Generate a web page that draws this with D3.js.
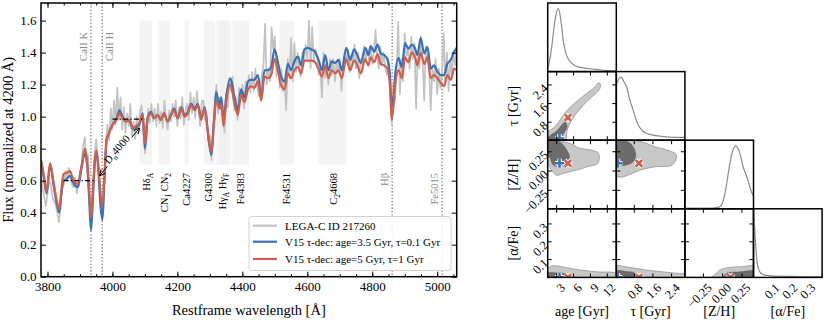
<!DOCTYPE html>
<html><head><meta charset="utf-8">
<script src="https://cdn.jsdelivr.net/npm/d3@7"></script>
<style>
body{margin:0;background:#fff;}
svg{font-family:"Liberation Serif","DejaVu Serif",serif;}
</style></head><body>
<svg id="fig" width="830" height="332"></svg>
<script>
// ----------------------------------------------
// Spectrum data
// ----------------------------------------------
// observed spectrum, 5 A steps from 3780 A
var dataStart = 3780, dataStep = 5;
var dataFlux = [
  0.62,0.55,0.50,0.44,0.52,0.60,0.58,0.50,0.47,0.45,
  0.40,0.34,0.42,0.55,0.58,0.66,0.60,0.68,0.62,0.58,
  0.56,0.62,0.52,0.60,0.66,0.70,0.82,0.87,0.72,0.76,
  0.45,0.33,0.48,0.78,0.86,0.70,0.62,0.47,0.38,0.64,
  0.86,0.95,0.85,1.05,0.92,1.10,0.95,1.18,0.98,1.12,
  0.92,1.06,0.90,1.02,0.94,1.08,0.88,0.97,0.86,1.00,
  0.90,1.04,1.07,0.92,0.77,0.86,1.05,0.96,1.08,0.97,
  1.05,0.94,1.08,0.96,1.03,0.93,1.10,0.98,0.92,1.04,
  0.97,1.08,1.00,1.10,0.94,1.06,0.99,1.12,0.95,1.04,
  1.08,0.98,1.15,1.02,1.12,0.99,1.16,1.05,0.94,1.10,
  1.10,0.98,1.02,0.84,0.88,0.73,0.95,0.96,1.20,1.02,
  1.12,1.04,1.07,0.90,1.14,1.06,1.24,1.16,1.25,1.04,
  1.12,0.98,1.18,1.10,1.20,1.05,1.22,1.14,1.26,1.15,
  1.28,1.16,1.30,1.20,1.13,1.18,1.26,1.32,1.58,1.20,
  1.30,1.22,1.56,1.42,1.50,1.25,1.34,1.18,1.30,1.16,
  1.22,1.04,1.36,1.24,1.49,1.22,1.46,1.28,1.40,1.30,
  1.25,1.40,1.34,1.45,1.36,1.60,1.30,1.56,1.34,1.42,
  1.38,1.26,1.32,1.12,1.40,1.24,1.30,1.20,1.36,1.26,
  1.36,1.22,1.34,1.28,1.36,1.16,1.30,1.38,1.34,1.42,
  1.28,1.38,1.34,1.45,1.30,1.40,1.24,1.36,1.32,1.44,
  1.34,1.42,1.36,1.44,1.33,1.40,1.54,1.38,1.30,1.44,
  1.32,1.40,1.30,1.26,1.36,1.18,0.95,1.20,1.10,1.30,
  1.59,1.14,1.36,1.22,1.52,1.38,1.42,1.30,1.50,1.36,
  1.46,1.05,1.40,1.30,1.50,1.35,1.10,1.44,1.36,1.30,
  1.04,1.30,1.22,1.36,1.14,1.30,1.18,1.28,1.52,1.20,
  1.40,1.16,1.36,1.26,1.40,1.32,1.44
];

// model spectra: [wavelength, age=3.5/tau=0.1 (blue), age=5/tau=1 (red)]
var modelRows = [
  [3780,.72,.73],[3790,.60,.62],[3797,.52,.53],[3808,.70,.71],[3818,.58,.60],[3828,.46,.48],
  [3836,.40,.42],[3843,.52,.55],[3849,.60,.64],[3859,.61,.65],[3869,.63,.66],[3877,.60,.62],
  [3884,.57,.59],[3894,.56,.58],[3905,.68,.69],[3915,.77,.80],[3922,.70,.72],[3928,.50,.55],
  [3934,.29,.37],[3940,.50,.55],[3946,.72,.74],[3951,.78,.79],[3957,.65,.68],[3963,.45,.52],
  [3969,.355,.44],[3975,.58,.62],[3982,.85,.855],[3990,.90,.90],[3998,.94,.94],[4005,.965,.96],
  [4013,.99,.98],[4021,1.04,1.02],[4031,1.00,.99],[4041,.97,.97],[4052,.975,.98],[4062,.925,.93],
  [4072,.93,.94],[4083,.95,.96],[4093,1.02,1.01],[4100,.80,.83],[4108,.99,.99],[4118,1.03,1.02],
  [4129,.99,.99],[4139,1.01,1.01],[4149,.98,.98],[4159,1.02,1.02],[4170,.97,.97],[4180,1.01,1.01],
  [4190,1.05,1.04],[4201,.99,.99],[4212,1.06,1.05],[4222,1.01,1.00],[4232,1.03,1.02],[4242,1.08,1.07],
  [4253,1.05,1.04],[4263,1.08,1.07],[4273,.99,.98],[4284,1.06,1.05],[4294,.90,.90],[4304,.76,.78],
  [4314,1.02,1.00],[4319,1.155,1.10],[4330,1.07,1.05],[4335,1.12,1.08],[4342,.97,.94],[4350,1.12,1.09],
  [4363,1.24,1.20],[4376,1.12,1.08],[4386,1.04,1.01],[4396,1.17,1.14],[4407,1.12,1.09],[4417,1.22,1.17],
  [4427,1.23,1.19],[4437,1.23,1.18],[4448,1.26,1.22],[4458,1.12,1.10],[4468,1.29,1.25],[4478,1.29,1.24],
  [4489,1.31,1.26],[4499,1.42,1.36],[4509,1.345,1.29],[4519,1.25,1.20],[4530,1.22,1.17],[4540,1.33,1.27],
  [4550,1.29,1.24],[4560,1.345,1.29],[4571,1.375,1.31],[4581,1.32,1.27],[4591,1.42,1.35],[4601,1.43,1.35],
  [4612,1.42,1.35],[4622,1.41,1.345],[4636,1.345,1.29],[4645,1.29,1.25],[4655,1.385,1.32],[4665,1.29,1.24],
  [4675,1.345,1.29],[4686,1.335,1.27],[4696,1.355,1.29],[4706,1.29,1.24],[4720,1.43,1.36],[4732,1.355,1.29],
  [4744,1.42,1.35],[4754,1.385,1.32],[4765,1.335,1.27],[4778,1.43,1.36],[4788,1.385,1.32],[4795,1.44,1.37],
  [4806,1.405,1.34],[4816,1.45,1.39],[4826,1.395,1.33],[4837,1.385,1.32],[4847,1.355,1.30],[4854,1.27,1.20],
  [4860,1.06,.98],[4866,1.14,1.08],[4870,1.25,1.19],[4881,1.365,1.29],[4891,1.31,1.24],[4901,1.46,1.37],
  [4911,1.425,1.34],[4922,1.45,1.40],[4932,1.425,1.37],[4939,1.385,1.32],[4949,1.49,1.40],[4960,1.395,1.33],
  [4970,1.435,1.37],[4980,1.30,1.24],[4990,1.32,1.26],[5001,1.28,1.24],[5011,1.26,1.21],[5021,1.26,1.19],
  [5031,1.33,1.26],[5042,1.355,1.23],[5052,1.405,1.30],[5060,1.43,1.29]
];

var legendNames = ["LEGA-C ID 217260", "V15 τ-dec: age=3.5 Gyr, τ=0.1 Gyr", "V15 τ-dec: age=5 Gyr, τ=1 Gyr"];
var seriesColors = ["#c2c2c2", "#3b70b4", "#cc6150"];

// Lick index passbands and labels ("_x" = subscript)
var lickBands = [[4083.5,4122.25],[4142.1,4177.1],[4222.25,4234.75],[4281.4,4316.4],[4319.75,4363.5],
                 [4331.25,4352.25],[4369.1,4420.4],[4514.25,4559.25],[4634.0,4720.25]];
var lickNames = ["Hδ_A", "CN_1 CN_2", "Ca4227", "G4300", "Hγ_A Hγ_F", "Fe4383", "Fe4531", "C_24668"];
var lickCenters = [4106, 4160, 4229, 4297, 4338, 4394, 4537, 4681];

// emission / absorption line markers
var lineNames = ["CaII K", "CaII H", "Hβ", "Fe5015"];
var lineWaves = [3933.7, 3968.5, 4861.3, 5015.0];

// Dn4000 windows
var dnBlue = [3850, 3950], dnBlueLevel = 0.60;
var dnRed = [4000, 4100], dnRedLevel = 0.985;

// ----------------------------------------------
// Corner plot data
// ----------------------------------------------
var dimNames = ["age [Gyr]", "τ [Gyr]", "[Z/H]", "[α/Fe]"];
var dimDomains = [[1.4, 13.6], [0.03, 2.97], [-0.49, 0.40], [0, 0.385]];
var dimTicks = [[3, 6, 9, 12], [0.8, 1.6, 2.4], [-0.25, 0, 0.25], [0.1, 0.2, 0.3]];
var dimTickText = [["3","6","9","12"], ["0.8","1.6","2.4"], ["−0.25","0.00","0.25"], ["0.1","0.2","0.3"]];

// 1D marginals (relative density)
var ageGrid = [1.4,1.8,2.2,2.6,3.0,3.3,3.6,3.9,4.2,4.6,5.0,5.5,6.0,7,8,9,10,11,12,13.6];
var ageDens = [0.05,0.2,0.45,0.75,0.95,1.0,0.9,0.7,0.47,0.3,0.21,0.15,0.11,0.07,0.055,0.045,0.035,0.025,0.015,0.01];
var tauGrid = [0.06,0.15,0.25,0.35,0.47,0.6,0.75,0.9,1.0,1.15,1.32,1.6,1.9,2.3,2.97];
var tauDens = [0.9,0.98,1.0,0.93,0.85,0.65,0.48,0.3,0.22,0.15,0.11,0.08,0.065,0.05,0.045];
var zhGrid = [-0.49,-0.2,-0.1,-0.04,0.0,0.044,0.08,0.11,0.14,0.17,0.19,0.216,0.24,0.26,0.29,0.32,0.35,0.367,0.40];
var zhDens = [0.01,0.01,0.015,0.03,0.1,0.34,0.62,0.82,0.95,1.0,0.97,0.91,0.8,0.69,0.58,0.48,0.36,0.29,0.2];
var afeGrid = [0,0.005,0.01,0.015,0.02,0.03,0.04,0.06,0.1,0.2,0.385];
var afeDens = [1.0,0.85,0.62,0.4,0.25,0.12,0.07,0.04,0.025,0.015,0.01];

// 2D credible regions, outer (light) and inner (dark), [x, y] in data units
var tauAgeOuter = [[1.2,-0.1],[1.2,0.40],[1.58,0.42],[2.4,0.56],[3.3,0.78],[4.18,1.11],[5.38,1.44],[6.86,1.75],
                   [8.36,2.04],[9.85,2.32],[10.44,2.49],[10.8,2.42],[10.6,2.21],[9.26,1.89],[7.76,1.54],
                   [6.28,1.11],[5.38,0.76],[4.8,0.40],[4.5,-0.1]];
var tauAgeInner = [[1.2,-0.1],[1.5,0.15],[2.11,0.28],[3.0,0.42],[3.9,0.68],[4.49,0.80],[4.85,0.62],[4.3,0.35],[3.9,0.15],[3.6,-0.1]];
var zhAgeOuter = [[1.2,0.385],[3.6,0.385],[5.38,0.36],[6.86,0.30],[9.26,0.27],[10.44,0.23],[10.3,0.10],[8.36,0.055],
                  [7.17,0.025],[4.19,-0.03],[3.0,-0.055],[2.11,0.01],[1.58,0.077],[1.2,0.1]];
var zhAgeInner = [[1.2,0.39],[3.6,0.375],[4.8,0.27],[5.26,0.185],[4.8,0.10],[3.6,0.055],[2.4,0.077],[1.69,0.185],[1.2,0.2]];
var zhTauOuter = [[-0.1,0.385],[1.03,0.385],[1.67,0.316],[2.23,0.27],[2.6,0.21],[2.44,0.08],[1.67,0.055],[1.03,0.01],
                  [0.52,-0.055],[0.18,-0.08],[-0.1,-0.03]];
var zhTauInner = [[-0.1,0.39],[0.52,0.38],[0.78,0.30],[0.86,0.195],[0.73,0.115],[0.43,0.077],[0.09,0.065],[-0.1,0.07]];
var afeAgeOuter = [[1.2,-0.02],[1.2,0.04],[1.9,0.062],[3.0,0.065],[4.5,0.056],[7.2,0.041],[10.4,0.031],[13.8,0.02],[13.8,-0.02]];
var afeAgeInner = [[1.2,-0.02],[1.2,0.022],[3.0,0.025],[4.5,0.02],[5.4,0.01],[5.6,-0.02]];
var afeTauOuter = [[-0.1,-0.02],[-0.1,0.062],[0.6,0.056],[1.32,0.041],[2.03,0.031],[2.74,0.022],[3.1,0.02],[3.1,-0.02]];
var afeTauInner = [[-0.1,-0.02],[-0.1,0.035],[0.5,0.032],[0.8,0.025],[0.9,-0.02]];
var afeZhOuter = [[-0.17,-0.02],[-0.08,0.025],[-0.02,0.045],[0.1,0.056],[0.25,0.06],[0.45,0.062],[0.45,-0.02]];
var afeZhInner = [[0.0,-0.02],[0.05,0.022],[0.2,0.03],[0.45,0.032],[0.45,-0.02]];

// model parameters [age, tau, Z/H, alpha/Fe]
var blueModel = [3.5, 0.1, 0.10, 0.0];
var redModel = [5.0, 1.0, 0.10, 0.0];

// ----------------------------------------------
// Basic setup
// ----------------------------------------------
var svg = d3.select("#fig");
var defs = svg.append("defs");

var spec = {left: 41, right: 456.7, top: 3, bottom: 276.7};
var x = d3.scaleLinear().domain([3780, 5060]).range([spec.left, spec.right]);
var y = d3.scaleLinear().domain([0, 1.71]).range([spec.bottom, spec.top]);

defs.append("clipPath").attr("id", "specClip")
    .append("rect")
    .attr("x", spec.left).attr("y", spec.top)
    .attr("width", spec.right - spec.left).attr("height", spec.bottom - spec.top);

defs.append("marker").attr("id", "arrowHead")
    .attr("viewBox", "0 0 10 10").attr("refX", 9).attr("refY", 5)
    .attr("markerWidth", 7).attr("markerHeight", 7).attr("markerUnits", "userSpaceOnUse")
    .attr("orient", "auto")
    .append("path").attr("d", "M1,1L9,5L1,9").attr("fill", "none").attr("stroke", "#000").attr("stroke-width", 1.3);

// helper for labels with subscripts
function richText(sel, str, fs) {
    var parts = str.split(/(_.)/);
    var down = false;
    parts.forEach(function(p) {
        if (!p) return;
        if (p[0] === "_") {
            sel.append("tspan").attr("font-size", fs * 0.7).attr("dy", fs * 0.28).text(p.slice(1));
            down = true;
        } else {
            sel.append("tspan").attr("dy", down ? -fs * 0.28 : 0).text(p);
            down = false;
        }
    });
}

var specG = svg.append("g");
var plotG = specG.append("g").attr("clip-path", "url(#specClip)");

// index bands
plotG.selectAll(".band")
    .data(lickBands)
    .enter()
    .append("rect")
    .attr("x", d => x(d[0]))
    .attr("width", d => x(d[1]) - x(d[0]))
    .attr("y", y(1.6))
    .attr("height", y(0.7) - y(1.6))
    .attr("fill", "#ececec")
    .attr("fill-opacity", 0.6);

// line markers
plotG.selectAll(".lineMark")
    .data(lineWaves)
    .enter()
    .append("line")
    .attr("x1", d => x(d)).attr("x2", d => x(d))
    .attr("y1", spec.top).attr("y2", spec.bottom)
    .attr("stroke", "#8a8a8a")
    .attr("stroke-width", 1.4)
    .attr("stroke-dasharray", "1.4,1.9");

// spectra
var dataLine = d3.line()
    .x((d, i) => x(dataStart + i * dataStep))
    .y(d => y(d));
plotG.append("path")
    .attr("d", dataLine(dataFlux))
    .attr("fill", "none")
    .attr("stroke", seriesColors[0])
    .attr("stroke-width", 1.7)
    .attr("stroke-linejoin", "round");

[1, 2].forEach(function(k) {
    plotG.append("path")
        .attr("d", d3.line().x(d => x(d[0])).y(d => y(d[k])).curve(d3.curveMonotoneX)(modelRows))
        .attr("fill", "none")
        .attr("stroke", seriesColors[k])
        .attr("stroke-width", 2.2)
        .attr("stroke-linejoin", "round");
});

// Dn4000 windows
[[dnBlue, dnBlueLevel], [dnRed, dnRedLevel]].forEach(function(w) {
    plotG.append("line")
        .attr("x1", x(w[0][0])).attr("x2", x(w[0][1]))
        .attr("y1", y(w[1])).attr("y2", y(w[1]))
        .attr("stroke", "#000")
        .attr("stroke-width", 1.3)
        .attr("stroke-dasharray", "5,2.2,1.3,2.2");
});

// Dn4000 annotation: rotated text with an arrow at each end
var dnCx = x(4022), dnCy = y(0.78), dnAng = -50;
var ux = Math.cos(dnAng * Math.PI / 180), uy = Math.sin(dnAng * Math.PI / 180);
var dnText = specG.append("text")
    .attr("transform", "translate(" + dnCx + "," + dnCy + ")rotate(" + dnAng + ")")
    .attr("text-anchor", "middle")
    .attr("dy", "0.35em")
    .attr("font-size", 11)
    .style("white-space", "pre");
richText(dnText, "D_n4000", 11);
[-1, 1].forEach(function(s) {
    specG.append("line")
        .attr("x1", dnCx + s * ux * 19).attr("y1", dnCy + s * uy * 19)
        .attr("x2", dnCx + s * ux * 31).attr("y2", dnCy + s * uy * 31)
        .attr("stroke", "#000").attr("stroke-width", 1)
        .attr("marker-end", "url(#arrowHead)");
});

// vertical feature labels
specG.selectAll(".lick")
    .data(lickNames)
    .enter()
    .append("text")
    .attr("transform", (d, i) => "translate(" + (x(lickCenters[i]) + 3.5) + ",173)rotate(-90)")
    .attr("text-anchor", "end")
    .attr("font-size", 10.5)
    .style("white-space", "pre")
    .each(function(d) { richText(d3.select(this), d, 10.5); });

var lineLabelOff = [-4, 10.5, -4, -4];
var lineLabelTop = [32, 32, 173, 173];
specG.selectAll(".lineLab")
    .data(lineNames)
    .enter()
    .append("text")
    .attr("transform", (d, i) => "translate(" + (x(lineWaves[i]) + lineLabelOff[i]) + "," + lineLabelTop[i] + ")rotate(-90)")
    .attr("text-anchor", "end")
    .attr("font-size", 10.5)
    .attr("fill", "#8a8a8a")
    .text(d => d);

// axes: ticks pointing inward on all four sides
var xMajor = d3.range(3800, 5001, 200), xMinor = d3.range(3800, 5060, 50);
var yMajor = d3.range(0, 1.61, 0.2);
function styleAxis(g) {
    g.select(".domain").remove();
    g.selectAll("line").attr("stroke", "#000").attr("stroke-width", 1);
    g.selectAll("text").attr("font-family", "Liberation Serif, serif").attr("font-size", 13).attr("fill", "#000");
}
specG.append("g").attr("transform", "translate(0," + spec.bottom + ")")
    .call(d3.axisBottom(x).tickValues(xMinor).tickSize(-2.5).tickFormat("")).call(styleAxis);
specG.append("g").attr("transform", "translate(0," + spec.bottom + ")")
    .call(d3.axisBottom(x).tickValues(xMajor).tickSize(-5).tickPadding(5).tickFormat(d3.format("d"))).call(styleAxis);
specG.append("g").attr("transform", "translate(0," + spec.top + ")")
    .call(d3.axisTop(x).tickValues(xMinor).tickSize(-2.5).tickFormat("")).call(styleAxis);
specG.append("g").attr("transform", "translate(0," + spec.top + ")")
    .call(d3.axisTop(x).tickValues(xMajor).tickSize(-5).tickFormat("")).call(styleAxis);
specG.append("g").attr("transform", "translate(" + spec.left + ",0)")
    .call(d3.axisLeft(y).tickValues(yMajor).tickSize(-5).tickPadding(4.5).tickFormat(d3.format(".1f"))).call(styleAxis);
specG.append("g").attr("transform", "translate(" + spec.right + ",0)")
    .call(d3.axisRight(y).tickValues(yMajor).tickSize(-5).tickFormat("")).call(styleAxis);

specG.append("rect")
    .attr("x", spec.left).attr("y", spec.top)
    .attr("width", spec.right - spec.left).attr("height", spec.bottom - spec.top)
    .attr("fill", "none").attr("stroke", "#000").attr("stroke-width", 1.5);

specG.append("text")
    .attr("x", (spec.left + spec.right) / 2).attr("y", 315)
    .attr("text-anchor", "middle").attr("font-size", 14.5)
    .text("Restframe wavelength [Å]");
specG.append("text")
    .attr("transform", "translate(12.5," + ((spec.top + spec.bottom) / 2) + ")rotate(-90)")
    .attr("text-anchor", "middle").attr("font-size", 14.5)
    .text("Flux (normalized at 4200 Å)");

// legend
var leg = specG.append("g");
leg.append("rect")
    .attr("x", 249).attr("y", 216.5).attr("width", 202).attr("height", 54).attr("rx", 3)
    .attr("fill", "#fff").attr("fill-opacity", 0.85)
    .attr("stroke", "#d2d2d2").attr("stroke-width", 1);
var legY = [225.7, 241.7, 259];
legendNames.forEach(function(name, i) {
    leg.append("line")
        .attr("x1", 253).attr("x2", 277).attr("y1", legY[i]).attr("y2", legY[i])
        .attr("stroke", seriesColors[i]).attr("stroke-width", 2.2);
    leg.append("text")
        .attr("x", 285).attr("y", legY[i] + 3.8)
        .attr("font-size", 11)
        .text(name);
});

// ----------------------------------------------
// Corner plot
// ----------------------------------------------
var cL = 547.7, cT = 3, cS = 68.6;
var colX = dimDomains.map((dom, c) => d3.scaleLinear().domain(dom).range([cL + c * cS, cL + (c + 1) * cS]));
var rowY = dimDomains.map((dom, r) => d3.scaleLinear().domain(dom).range([cT + (r + 1) * cS, cT + r * cS]));
var marginals = [[ageGrid, ageDens], [tauGrid, tauDens], [zhGrid, zhDens], [afeGrid, afeDens]];
var regions = {
    "10": [tauAgeOuter, tauAgeInner],
    "20": [zhAgeOuter, zhAgeInner],
    "21": [zhTauOuter, zhTauInner],
    "30": [afeAgeOuter, afeAgeInner],
    "31": [afeTauOuter, afeTauInner],
    "32": [afeZhOuter, afeZhInner]
};
var cornerG = svg.append("g");

for (var r = 0; r < 4; r++) {
    for (var c = 0; c <= r; c++) {
        var px0 = cL + c * cS, py0 = cT + r * cS;
        var clipId = "clip" + r + c;
        defs.append("clipPath").attr("id", clipId)
            .append("rect").attr("x", px0).attr("y", py0).attr("width", cS).attr("height", cS);
        var pg = cornerG.append("g");
        var inner = pg.append("g").attr("clip-path", "url(#" + clipId + ")");
        var xs = colX[c];

        if (r === c) {
            var ds = d3.scaleLinear().domain([0, 1 / 0.92]).range([py0 + cS, py0]);
            var m = marginals[c];
            inner.append("path")
                .attr("d", d3.line().x(d => xs(d[0])).y(d => ds(d[1])).curve(d3.curveMonotoneX)(d3.zip(m[0], m[1])))
                .attr("fill", "none").attr("stroke", "#8c8c8c").attr("stroke-width", 1.2);
        } else {
            var ys = rowY[r];
            var reg = regions["" + r + c];
            var area = d3.line().x(d => xs(d[0])).y(d => ys(d[1])).curve(d3.curveCatmullRomClosed.alpha(0.5));
            inner.append("path").attr("d", area(reg[0]))
                .attr("fill", "#c8c8c8").attr("stroke", "#9c9c9c").attr("stroke-width", 0.9);
            inner.append("path").attr("d", area(reg[1]))
                .attr("fill", "#6c6c6c").attr("stroke", "#5c5c5c").attr("stroke-width", 0.6);

            // model markers
            [[blueModel, seriesColors[1], 0], [redModel, seriesColors[2], 45]].forEach(function(mk) {
                var g = inner.append("g")
                    .attr("transform", "translate(" + xs(mk[0][c]) + "," + ys(mk[0][r]) + ")rotate(" + mk[2] + ")");
                g.append("path").attr("d", "M-4.5,0H4.5M0,-4.5V4.5")
                    .attr("stroke", "#fff").attr("stroke-width", 4.6);
                g.append("path").attr("d", "M-4.5,0H4.5M0,-4.5V4.5")
                    .attr("stroke", mk[1]).attr("stroke-width", 2.6);
            });

            // inward ticks on all sides
            dimTicks[c].forEach(function(t) {
                pg.append("line").attr("x1", xs(t)).attr("x2", xs(t)).attr("y1", py0 + cS).attr("y2", py0 + cS - 4)
                    .attr("stroke", "#000").attr("stroke-width", 1);
                pg.append("line").attr("x1", xs(t)).attr("x2", xs(t)).attr("y1", py0).attr("y2", py0 + 4)
                    .attr("stroke", "#000").attr("stroke-width", 1);
            });
            dimTicks[r].forEach(function(t) {
                pg.append("line").attr("x1", px0).attr("x2", px0 + 4).attr("y1", ys(t)).attr("y2", ys(t))
                    .attr("stroke", "#000").attr("stroke-width", 1);
                pg.append("line").attr("x1", px0 + cS).attr("x2", px0 + cS - 4).attr("y1", ys(t)).attr("y2", ys(t))
                    .attr("stroke", "#000").attr("stroke-width", 1);
            });
        }

        pg.append("rect").attr("x", px0).attr("y", py0).attr("width", cS).attr("height", cS)
            .attr("fill", "none").attr("stroke", "#000").attr("stroke-width", 1.5);

        // tick labels on the outer edges
        if (r === 3) {
            dimTicks[c].forEach(function(t, i) {
                pg.append("text")
                    .attr("transform", "translate(" + (xs(t) + 3) + "," + (py0 + cS + 5) + ")rotate(-45)")
                    .attr("text-anchor", "end").attr("dy", "0.7em")
                    .attr("font-size", 12.5)
                    .text(dimTickText[c][i]);
            });
        }
        if (c === 0 && r > 0) {
            dimTicks[r].forEach(function(t, i) {
                pg.append("text")
                    .attr("transform", "translate(" + (px0 - 5) + "," + (rowY[r](t) - 2) + ")rotate(-45)")
                    .attr("text-anchor", "end").attr("dy", "0.7em")
                    .attr("font-size", 12.5)
                    .text(dimTickText[r][i]);
            });
        }
    }
}

// corner axis labels
dimNames.forEach(function(name, i) {
    cornerG.append("text")
        .attr("x", cL + (i + 0.5) * cS).attr("y", 316)
        .attr("text-anchor", "middle").attr("font-size", 14)
        .text(name);
    if (i > 0) {
        cornerG.append("text")
            .attr("transform", "translate(518," + (cT + (i + 0.5) * cS) + ")rotate(-90)")
            .attr("text-anchor", "middle").attr("font-size", 14)
            .text(name);
    }
});
</script></body></html>
